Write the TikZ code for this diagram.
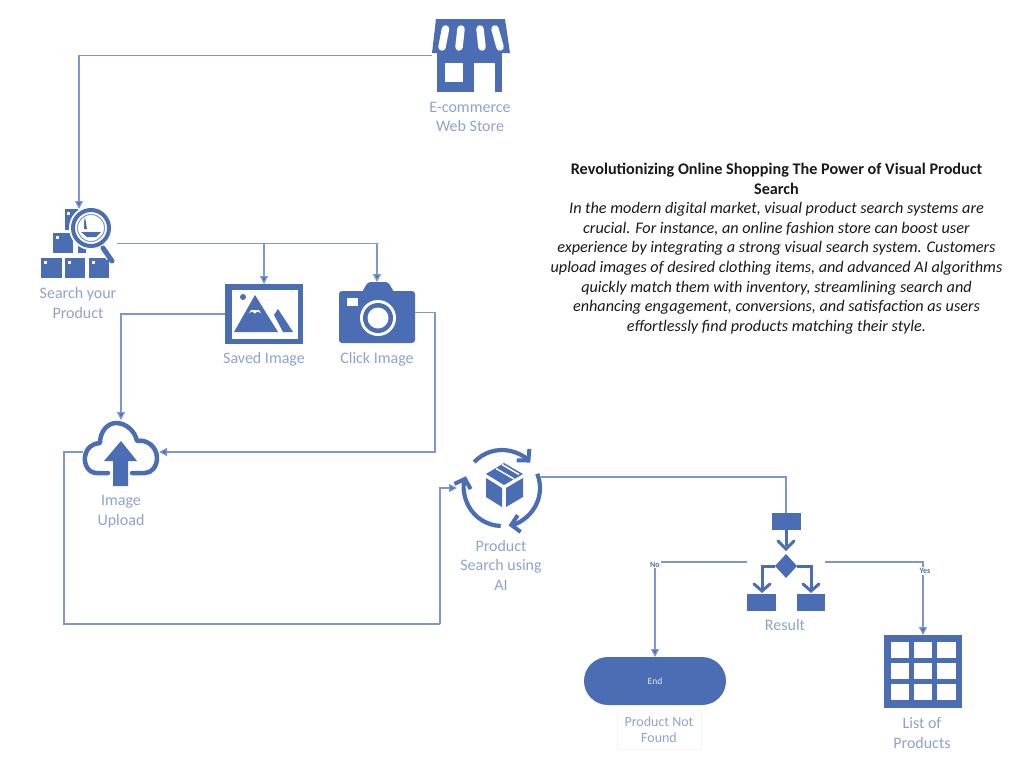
\documentclass[tikz,border=0pt]{standalone}
\usepackage{fontspec}
\setmainfont{Carlito}
\usetikzlibrary{arrows.meta,calc,shapes.misc}
\definecolor{iconblue}{HTML}{4A6DB3}
\definecolor{linkblue}{HTML}{7C97CF}
\definecolor{labelblue}{HTML}{8EA3CC}
\tikzset{
  iconbox/.style={inner sep=0pt,outer sep=0pt,minimum width=#1},
  link/.style={draw=linkblue,line width=1.3pt,-{Triangle[length=8pt,width=8pt,fill=iconblue]}},
  plainlink/.style={draw=linkblue,line width=1.3pt},
  caption/.style={text=labelblue,font=\fontsize{16}{19.5}\selectfont,align=center,inner sep=0pt},
  tiny label/.style={text=iconblue,font=\fontsize{8}{9}\selectfont\bfseries,fill=white,inner sep=1pt},
  fillblue/.style={fill=iconblue,draw=none},
  white part/.style={fill=white,draw=none},
  cyc/.style={draw=iconblue,line width=4.2pt,-{Straight Barb[length=8pt,width=17pt,line width=4pt]}}
}
\begin{document}
\begin{tikzpicture}[x=1pt,y=-1pt]
\useasboundingbox (0,0) rectangle (1022,774);
% anchor boxes of the icons
\node[iconbox=78pt,minimum height=73pt] (store) at (471,55.5) {};
\node[iconbox=76pt,minimum height=69pt] (search) at (79,243.5) {};
\node[iconbox=78pt,minimum height=60pt] (saved) at (264,314) {};
\node[iconbox=76pt,minimum height=61pt] (camera) at (377,312.5) {};
\node[iconbox=76pt,minimum height=64pt] (upload) at (121,452) {};
\node[iconbox=82pt,minimum height=80pt] (ai) at (502,488) {};
\node[iconbox=78pt,minimum height=98pt] (result) at (786,562) {};
\node[iconbox=78pt,minimum height=73pt] (grid) at (923,671.5) {};
\coordinate (aiout) at (541,477);
\coordinate (lowL) at (64,624);
\coordinate (lowR) at (440,624);
\coordinate (camturn) at (435,312.5);

% store
\fill[fillblue] (436,19) -- (505,19) -- (510,53) -- (432,53) -- cycle;
\fill[fillblue] (437,53) rectangle (502,92);
\draw[white,line width=7.5pt,line cap=round] (445.5,29) -- (442,47) (461,29) -- (459,47) (480,29) -- (482,47) (495,29) -- (500,47);
\fill[fillblue] (437,52) rectangle (502,63);
\fill[white part] (445,63) rectangle (463,82);
\fill[white part] (474,63) rectangle (495,92);

% search icon
\foreach \bx/\by/\bw/\bh in {41/258/21/20,65/258/20/20,89/258/20/20,53/233/20/20,65/209/13/21,78/233/8/20}{
  \fill[fillblue] (\bx,\by) rectangle ++(\bw,\bh);
}
\foreach \dx/\dy in {44/261,68/261,92/261,56/236,67/212}{
  \fill[white part] (\dx,\dy) rectangle ++(2.5,2.5);
}
\fill[white] (91,228) circle (22);
\draw[iconblue,line width=4pt] (91,228) circle (18);
\draw[iconblue!70,line width=1pt] (91,228) circle (13.5);
\fill[fillblue] (84,229) -- (84,222) -- (85,217) -- (87,229) -- cycle;
\fill[fillblue] (81,232) -- (101,232) -- (96,237) -- (87,237) -- cycle;
\draw[white,line width=8pt] (103,246) -- (110,258);
\draw[iconblue,line width=5pt,line cap=round] (103,248) -- (112,261);

% saved image
\fill[fillblue] (225,284) rectangle (303,344);
\fill[white part] (232,290) rectangle (298,339);
\fill[fillblue] (243,297) circle (3);
\fill[fillblue] (255,295) -- (278,332) -- (234,332) -- cycle;
\fill[white part] (251,310) -- (259,310) -- (261,313) -- (257,311.5) -- (255,313.5) -- (252,311.5) -- (249,313) -- cycle;
\fill[fillblue] (274,315) -- (278,309) -- (293,332) -- (283,332) -- cycle;

% camera
\fill[fillblue,rounded corners=3pt] (339,291) rectangle (415,343);
\fill[fillblue,rounded corners=2pt] (362,292) -- (368,282) -- (388,282) -- (394,292) -- cycle;
\fill[white part] (347,298) rectangle (358,306);
\fill[white] (378,318) circle (18);
\fill[fillblue] (378,318) circle (15);
\fill[white] (378,318) circle (10.5);

% cloud
\draw[iconblue,line width=4.5pt,line cap=round,line join=round]
  (108,473) -- (97,473) .. controls (88,473) and (84,464) .. (85,457)
  .. controls (86,448) and (93,443) .. (100,443)
  .. controls (100,431) and (108,423) .. (116,423)
  .. controls (126,423) and (135,431) .. (137,441)
  .. controls (147,439) and (157,447) .. (157,458)
  .. controls (157,466) and (152,473) .. (145,473) -- (132,473);
\fill[fillblue] (121,441) -- (137,461) -- (128,461) -- (128,486) -- (113,486) -- (113,461) -- (104,461) -- cycle;

% AI cycle
\draw[cyc] (502,488) ++(223:38) arc[start angle=223,end angle=318,radius=38];
\draw[cyc] (502,488) ++(338:38) arc[start angle=338,end angle=440,radius=38];
\draw[cyc] (502,488) ++(92:38) arc[start angle=92,end angle=198,radius=38];
\fill[fillblue] (504,463) -- (523,474) -- (504,485) -- (486,474) -- cycle;
\draw[white,line width=1.5pt] (496,468.5) -- (514,479) (502,464.5) -- (519,474.5);
\fill[fillblue] (486,478) -- (502,488) -- (502,507) -- (486,497) -- cycle;
\fill[fillblue] (506,488) -- (523,478) -- (523,497) -- (506,507) -- cycle;

% result icon
\fill[fillblue] (772,513) rectangle (801,530);
\draw[iconblue,line width=3pt] (786,530) -- (786,546);
\draw[iconblue,line width=3pt,line cap=round] (778,541) -- (786,549) -- (794,541);
\fill[fillblue] (786,554) -- (797,566) -- (786,578) -- (775,566) -- cycle;
\draw[iconblue,line width=3pt] (775,566) -- (762,566) -- (762,589);
\draw[iconblue,line width=3pt] (797,566) -- (811,566) -- (811,589);
\draw[iconblue,line width=3pt,line cap=round] (754,584) -- (762,591) -- (770,584);
\draw[iconblue,line width=3pt,line cap=round] (803,584) -- (811,591) -- (819,584);
\fill[fillblue] (747,594) rectangle (776,611);
\fill[fillblue] (797,594) rectangle (825,611);

% table icon
\fill[fillblue] (884,635) rectangle (962,708);
\foreach \cx/\cw in {891/18,914/18,937/19}{
  \foreach \cy in {642,663,684}{
    \fill[white part] (\cx,\cy) rectangle ++(\cw,16);
  }
}

% end terminator
\node[rounded rectangle,fill=iconblue,draw=none,minimum width=142pt,minimum height=48pt,inner sep=0pt,outer sep=0pt,text=white!85!iconblue,font=\fontsize{9.5}{11}\selectfont] (endnode) at (655,681) {End};

% connectors
\draw[link] (store.west) -| (search.north);
\draw[link] (search.east) -| (saved.north);
\draw[link] (search.east) -| (camera.north);
\draw[link] (saved.west) -| (upload.north);
\draw[link] (camera.east) -- (camturn) |- (upload.east);
\draw[plainlink] (upload.west) -| (lowL) -- (lowR);
\draw[link,shorten >=4pt] (lowR) |- (ai.west);
\draw[plainlink] (aiout) -| (result.north);
\draw[link] (result.west) -| (endnode.north);
\draw[link] (result.east) -| (grid.north);
\node[tiny label] (nolabel) at (655,564.5) {No};
\node[tiny label] (yeslabel) at (925,571) {Yes};

% captions
\node[caption] (storecap) at (470,117) {E-commerce\\Web Store};
\node[caption] (searchcap) at (78,303) {Search your\\Product};
\node[caption] (savedcap) at (264,359.5) {Saved Image};
\node[caption] (cameracap) at (377,359.5) {Click Image};
\node[caption] (uploadcap) at (121,511.5) {Image\\Upload};
\node[caption] (aicap) at (501,565) {Product\\Search using\\AI};
\node[caption] (resultcap) at (785,625) {Result};
\node[caption,font=\fontsize{14}{16}\selectfont,draw=black!4,minimum width=84pt,minimum height=39pt] (endcap) at (659,730) {Product Not\\Found};
\node[caption] (gridcap) at (922,733) {List of\\Products};

% description
\node[align=center,inner sep=0pt,text=black!90,font=\fontsize{16.2}{19.6}\selectfont] (desc) at (776.5,248.5) {%
\textbf{Revolutionizing Online Shopping The Power of Visual Product}\\
\textbf{Search}\\
\textit{In the modern digital market, visual product search systems are}\\
\textit{crucial. For instance, an online fashion store can boost user}\\
\textit{experience by integrating a strong visual search system. Customers}\\
\textit{upload images of desired clothing items, and advanced AI algorithms}\\
\textit{quickly match them with inventory, streamlining search and}\\
\textit{enhancing engagement, conversions, and satisfaction as users}\\
\textit{effortlessly find products matching their style.}};
\end{tikzpicture}
\end{document}
